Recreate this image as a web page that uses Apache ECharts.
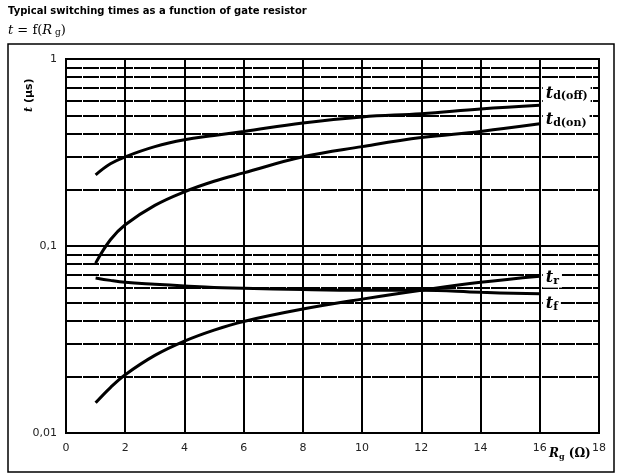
<!DOCTYPE html>
<html><head><meta charset="utf-8">
<script src="https://cdn.jsdelivr.net/npm/echarts@6/dist/echarts.min.js"></script>
<style>html,body{margin:0;padding:0;background:#fff}#c{width:625px;height:474px}</style>
</head><body><div id="c"></div>
<script>
const rg = [1, 1.5, 2, 3, 4, 5, 6, 8, 10, 12, 14, 16];
const tdOff = [0.24, 0.275, 0.30, 0.34, 0.37, 0.39, 0.41, 0.455, 0.49, 0.51, 0.54, 0.565];
const tdOn  = [0.081, 0.108, 0.13, 0.165, 0.195, 0.222, 0.246, 0.30, 0.34, 0.38, 0.41, 0.45];
const tR    = [0.0145, 0.0175, 0.0205, 0.026, 0.031, 0.0355, 0.0395, 0.046, 0.052, 0.058, 0.064, 0.069];
const tF    = [0.0675, 0.0655, 0.064, 0.0625, 0.0612, 0.060, 0.0595, 0.0585, 0.058, 0.058, 0.0565, 0.0555];
const minorTicks = [0.02,0.03,0.04,0.05,0.06,0.07,0.08,0.09,0.2,0.3,0.4,0.5,0.6,0.7,0.8,0.9];
const xTicks = [0, 2, 4, 6, 8, 10, 12, 14, 16, 18];

const serif = '"DejaVu Serif", "Liberation Serif", serif';
function pairs(ys){ return rg.map((x,i)=>[x, ys[i]]); }
function lab(main, sub, dy){
  return {
    show: true, offset: [0, dy], distance: 3,
    formatter: '{t|' + main + '}{s|' + sub + '}',
    backgroundColor: '#fff', padding: [1, 3, 1, 3],
    rich: {
      t: {fontFamily: serif, fontStyle: 'italic', fontWeight: 'bold', fontSize: 16, color: '#000'},
      s: {fontFamily: serif, fontWeight: 'bold', fontSize: 11, color: '#000', verticalAlign: 'bottom', padding: [6,0,0,0]}
    }
  };
}
function curve(name, ys, main, sub, dy){
  return {
    name, type: 'line', data: pairs(ys), smooth: 0.4, showSymbol: false, symbol: 'none',
    lineStyle: {color: '#000', width: 3}, z: 5,
    endLabel: lab(main, sub, dy)
  };
}
const chart = echarts.init(document.getElementById('c'), null, {renderer: 'canvas'});
chart.setOption({
  animation: false,
  backgroundColor: '#fff',
  grid: {left: 66, top: 59, right: 26, bottom: 41, show: true, borderColor: '#000', borderWidth: 2},
  xAxis: {
    type: 'value', min: 0, max: 18, interval: 2,
    axisLine: {show: true, onZero: false, lineStyle: {color: '#000', width: 2}},
    axisTick: {show: false},
    axisLabel: {fontFamily: '"DejaVu Sans", Verdana, sans-serif', fontSize: 11, color: '#222', margin: 10,
      formatter: v => xTicks.indexOf(v) >= 0 ? String(v) : ''},
    splitLine: {show: true, lineStyle: {color: '#000', width: 2}}
  },
  yAxis: {
    type: 'log', logBase: 10, min: 0.01, max: 1,
    axisLine: {show: true, lineStyle: {color: '#000', width: 2}},
    axisTick: {show: false},
    axisLabel: {fontFamily: '"DejaVu Sans", Verdana, sans-serif', fontSize: 11, color: '#222', margin: 9,
      formatter: v => String(+v.toPrecision(3)).replace('.', ',')},
    splitLine: {show: true, lineStyle: {color: '#000', width: 2}}
  },
  series: [
    {
      type: 'line', data: [], silent: true,
      markLine: {
        silent: true, symbol: 'none', label: {show: false},
        lineStyle: {color: '#000', width: 2, type: [16, 1]},
        data: minorTicks.map(v => ({yAxis: v}))
      }
    },
    curve('tdoff', tdOff, 't', 'd(off)', -12),
    curve('tdon', tdOn, 't', 'd(on)', -4),
    curve('tr', tR, 't', 'r', 2),
    curve('tf', tF, 't', 'f', 10)
  ],
  graphic: [
    {type: 'rect', shape: {x: 8, y: 44, width: 606, height: 428}, style: {fill: 'none', stroke: '#000', lineWidth: 1.5}, z: -1},
    {type: 'text', left: 8, top: 6, style: {text: 'Typical switching times as a function of gate resistor',
      font: 'bold 10px "DejaVu Sans", Verdana, sans-serif', fill: '#000'}},
    {type: 'text', left: 8, top: 24, style: {
      text: '{i|t} = f({i|R}{s| g})',
      font: '13px ' + serif, fill: '#000',
      rich: {i: {fontFamily: serif, fontStyle: 'italic', fontSize: 13}, s: {fontFamily: serif, fontSize: 9, padding: [5,0,0,0]}}
    }},
    {type: 'text', x: 24, y: 112, rotation: Math.PI / 2, style: {
      text: '{i|t} (µs)', font: 'bold 11px "DejaVu Sans", Verdana, sans-serif', fill: '#000',
      rich: {i: {fontStyle: 'italic', fontWeight: 'bold', fontSize: 11, fontFamily: serif}}
    }},
    {type: 'text', left: 549, top: 448, style: {
      text: '{i|R}{s|g} (Ω)', font: 'bold 12px ' + serif, fill: '#000',
      rich: {i: {fontFamily: serif, fontStyle: 'italic', fontWeight: 'bold', fontSize: 12}, s: {fontFamily: serif, fontWeight: 'bold', fontSize: 8, padding: [5,0,0,0]}}
    }}
  ]
});
</script></body></html>
